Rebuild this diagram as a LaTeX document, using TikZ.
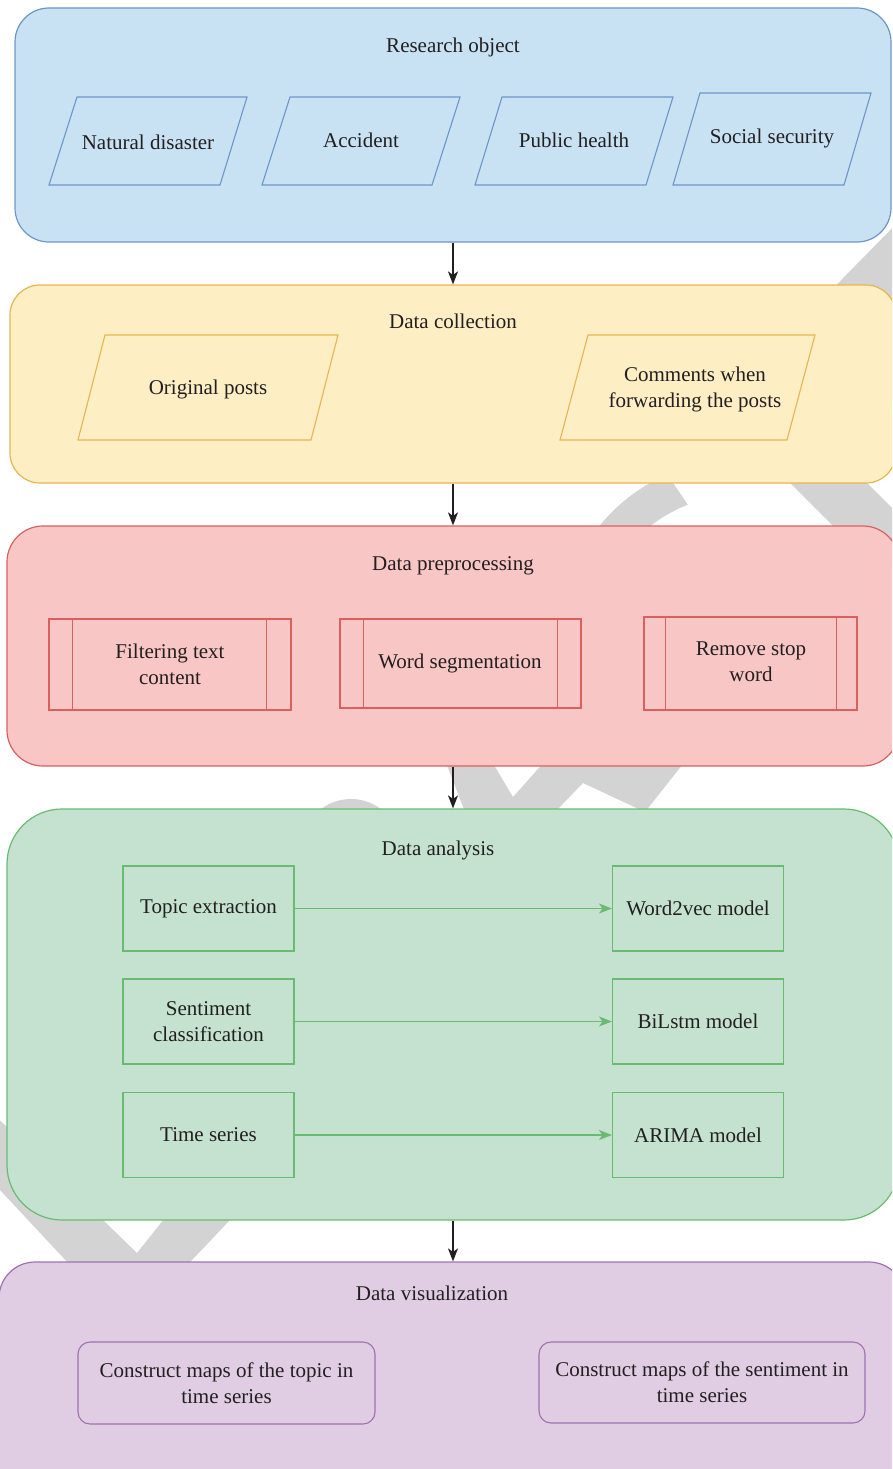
\documentclass[tikz,border=0pt]{standalone}
\usepackage{fontspec}
\setmainfont{Liberation Serif}
\usetikzlibrary{arrows.meta,calc}

\definecolor{roFill}{RGB}{200,226,244}
\definecolor{roLine}{RGB}{108,150,200}
\definecolor{dcFill}{RGB}{253,238,196}
\definecolor{dcLine}{RGB}{230,182,80}
\definecolor{dpFill}{RGB}{248,198,196}
\definecolor{dpLine}{RGB}{218,96,96}
\definecolor{daFill}{RGB}{197,226,208}
\definecolor{daLine}{RGB}{104,188,112}
\definecolor{dvFill}{RGB}{224,205,228}
\definecolor{dvLine}{RGB}{160,112,176}
\definecolor{wmark}{RGB}{211,211,211}
\definecolor{ink}{RGB}{35,31,32}

\tikzset{
  stage/.style={draw=#1Line, fill=#1Fill, line width=1.2pt, inner sep=0pt},
  txt/.style={text=ink, font=\fontsize{21}{26}\selectfont, align=center, inner sep=0pt},
  slantbox/.style={draw=#1Line, fill=#1Fill, line width=1.1pt},
  procbox/.style={draw=dpLine, fill=dpFill, line width=1.1pt, inner sep=0pt},
  anabox/.style={draw=daLine, fill=daFill, line width=1.1pt, inner sep=0pt,
    minimum width=171pt, minimum height=85pt, txt},
  visbox/.style={draw=dvLine, fill=dvFill, line width=1.1pt, inner sep=0pt,
    rounded corners=12pt, txt},
  flow/.style={draw=ink, line width=1.3pt, -{Stealth[length=13pt,width=10pt,inset=3.5pt]}},
  gflow/.style={draw=daLine, line width=1.4pt, -{Stealth[length=13pt,width=10pt,inset=3.5pt]}},
}

\begin{document}
\begin{tikzpicture}[x=1pt,y=-1pt]
\useasboundingbox (0,0) rectangle (892,1469);
\clip (0,0) rectangle (892,1469);

% grey watermark strokes behind the stages
\fill[wmark] (805,317) -- (905,215) -- (1000,215) -- (1000,400) -- (860,400) -- cycle;
\fill[wmark] (762,455) -- (839,455) -- (944,560) -- (867,560) -- cycle;
\fill[wmark] (740,640) ++(-113.7:181) arc[start angle=-113.7, end angle=-190, radius=181]
   -- ($(740,640)+(-190:145)$) arc[start angle=-190, end angle=-111.1, radius=145] -- cycle;
\fill[wmark] (351,849) circle[radius=50];
\fill[wmark] (445,760) -- (491,760) -- (513,797) -- (546,760) -- (686,760) -- (645,812)
   -- (583,783) -- (555,812) -- (465,812) -- cycle;
\fill[wmark] (-84,1100) -- (84,1280) -- (173,1280) -- (268,1180) -- (195,1180)
   -- (137,1253) -- (-21,1100) -- cycle;

% stage containers
\node[stage=ro, rounded corners=34pt, minimum width=876pt, minimum height=234pt] (ro) at (453,125) {};
\node[stage=dc, rounded corners=30pt, minimum width=886pt, minimum height=198pt] (dc) at (453,384) {};
\node[stage=dp, rounded corners=36pt, minimum width=892pt, minimum height=240pt] (dp) at (453,646) {};
\node[stage=da, rounded corners=55pt, minimum width=892pt, minimum height=411pt] (da) at (453,1014.5) {};
\node[stage=dv, rounded corners=36pt, minimum width=906pt, minimum height=240pt] (dv) at (452,1382) {};

% stage titles
\node[txt] (roT) at (453,47) {Research object};
\node[txt] (dcT) at (453,321) {Data collection};
\node[txt] (dpT) at (453,566) {Data preprocessing};
\node[txt] (daT) at (438,850) {Data analysis};
\node[txt] (dvT) at (432,1293) {Data visualization};

% research object: event types
\draw[slantbox=ro] (49,185) -- (77,97) -- (247,97) -- (220,185) -- cycle;
\draw[slantbox=ro] (262,185) -- (290,97) -- (460,97) -- (432,185) -- cycle;
\draw[slantbox=ro] (475,185) -- (502,97) -- (673,97) -- (646,185) -- cycle;
\draw[slantbox=ro] (673,185) -- (700,93) -- (871,93) -- (844,185) -- cycle;
\node[txt] (nd) at (148,142) {Natural disaster};
\node[txt] (ac) at (361,140) {Accident};
\node[txt] (ph) at (574,140) {Public health};
\node[txt] (ss) at (772,138) {Social security};

% data collection: sources
\draw[slantbox=dc] (78,440) -- (105,335) -- (338,335) -- (311,440) -- cycle;
\draw[slantbox=dc] (560,440) -- (588,335) -- (815,335) -- (787,440) -- cycle;
\node[txt] (op) at (208,389) {Original posts};
\node[txt] (cm) at (695,389) {Comments when\\forwarding the posts};

% data preprocessing: predefined processes
\node[procbox, minimum width=242pt, minimum height=91pt] (ft) at (170,664.5) {};
\node[procbox, minimum width=241pt, minimum height=89pt] (ws) at (460.5,663.5) {};
\node[procbox, minimum width=213pt, minimum height=93pt] (rs) at (750.5,663.5) {};
\foreach \b/\l/\r in {ft/24/25, ws/24/24, rs/22/21} {
  \draw[dpLine, line width=1.1pt] ([xshift=\l pt]\b.north west) -- ([xshift=\l pt]\b.south west);
  \draw[dpLine, line width=1.1pt] ([xshift=-\r pt]\b.north east) -- ([xshift=-\r pt]\b.south east);
}
\node[txt] (ftT) at (170,664) {Filtering text\\content};
\node[txt] (wsT) at (460,663) {Word segmentation};
\node[txt] (rsT) at (751,662) {Remove stop\\word};

% data analysis: methods and models
\node[anabox] (te) at (208.5,908.5) {Topic extraction};
\node[anabox] (wv) at (698,908.5) {Word2vec model};
\node[anabox] (sc) at (208.5,1021.5) {Sentiment\\classification};
\node[anabox] (bl) at (698,1021.5) {BiLstm model};
\node[anabox] (tm) at (208.5,1135) {Time series};
\node[anabox] (ar) at (698,1135) {ARIMA model};
\draw[gflow] (te) -- (wv);
\draw[gflow] (sc) -- (bl);
\draw[gflow] (tm) -- (ar);

% data visualization: outputs
\node[visbox, minimum width=297pt, minimum height=82pt] (mt) at (226.5,1383) {Construct maps of the topic in\\time series};
\node[visbox, minimum width=326pt, minimum height=81pt] (ms) at (702,1382.5) {Construct maps of the sentiment in\\time series};

% flow between stages
\draw[flow] (ro.south) -- (dc.north);
\draw[flow] (dc.south) -- (dp.north);
\draw[flow] (dp.south) -- (da.north);
\draw[flow] (da.south) -- (da.south |- dv.north);
\end{tikzpicture}
\end{document}
